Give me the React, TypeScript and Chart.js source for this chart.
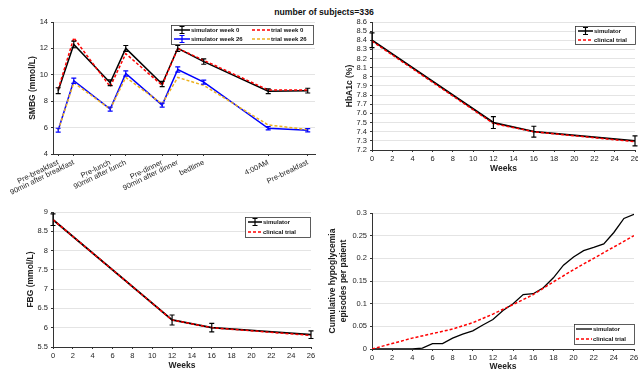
import React, { useEffect, useRef } from "react";
import { Chart, registerables } from "chart.js";
Chart.register(...registerables);

const FONT = "'Liberation Sans', Arial, Helvetica, sans-serif";
Chart.defaults.font.family = FONT;

const TITLE = "number of subjects=336";

// ---------- SMBG profile ----------
const smbgLabels = [
  "Pre-breakfast",
  "90min after breakfast",
  "Pre-lunch",
  "90min after lunch",
  "Pre-dinner",
  "90min after dinner",
  "bedtime",
  "4:00AM",
  "Pre-breakfast",
];
const smbgTimes = [7, 8.5, 12, 13.5, 17, 18.5, 21, 27.2, 31];
const simWeek0 = [8.8, 12.3, 9.4, 12.0, 9.3, 12.0, 11.0, 8.75, 8.8];
const simWeek0Err = [0.22, 0.25, 0.22, 0.22, 0.2, 0.22, 0.2, 0.18, 0.18];
const trialWeek0 = [8.9, 12.8, 9.1, 11.6, 9.2, 12.0, 11.1, 8.85, 8.85];
const simWeek26 = [5.8, 9.55, 7.4, 10.1, 7.7, 10.4, 9.45, 5.95, 5.8];
const simWeek26Err = [0.15, 0.2, 0.15, 0.2, 0.15, 0.2, 0.15, 0.12, 0.12];
const trialWeek26 = [5.8, 9.4, 7.4, 9.8, 7.8, 9.8, 9.2, 6.2, 5.85];

// ---------- HbA1c / FBG ----------
const visitWeeks = [0, 12, 16, 26];
const hba1cSim = [8.4, 7.5, 7.4, 7.3];
const hba1cSimErr = [0.08, 0.065, 0.06, 0.055];
const hba1cTrial = [8.39, 7.49, 7.4, 7.29];
const fbgSim = [8.8, 6.2, 6.0, 5.82];
const fbgSimErr = [0.15, 0.13, 0.11, 0.1];
const fbgTrial = [8.8, 6.2, 6.0, 5.8];

// ---------- Hypoglycemia ----------
const hypoSimWeeks = [0, 1, 2, 3, 4, 5, 6, 7, 8, 9, 10, 11, 12, 13, 14, 15, 16, 17, 18, 19, 20, 21, 22, 23, 24, 25, 26];
const hypoSim = [0, 0, 0, 0, 0, 0.002, 0.012, 0.012, 0.024, 0.033, 0.04, 0.053, 0.065, 0.085, 0.1, 0.12, 0.122, 0.135, 0.157, 0.185, 0.203, 0.217, 0.224, 0.232, 0.257, 0.288, 0.297];
const hypoTrialWeeks = [0, 2, 4, 6, 8, 10, 12, 14, 16, 18, 20, 22, 24, 26];
const hypoTrial = [0, 0.012, 0.024, 0.034, 0.044, 0.058, 0.077, 0.098, 0.12, 0.148, 0.175, 0.2, 0.225, 0.25];

const pts = (xs: number[], ys: number[]) => xs.map((x, i) => ({ x, y: ys[i] }));
const fmt = (v: any) => String(Number(Number(v).toFixed(4)));

type Rect = { left: number; top: number; width: number; height: number };
type Area = { left: number; top: number; right: number; bottom: number };

const errorBarPlugin = {
  id: "errorBars",
  afterDatasetsDraw(chart: any) {
    const ctx = chart.ctx;
    const xs = chart.scales.x;
    const ys = chart.scales.y;
    chart.data.datasets.forEach((ds: any) => {
      if (!ds.errorBars) return;
      ctx.save();
      ctx.strokeStyle = ds.errorColor || ds.borderColor;
      ctx.lineWidth = 1.2;
      const cap = 2.5;
      ds.data.forEach((p: any, j: number) => {
        const e = ds.errorBars[j];
        const px = xs.getPixelForValue(p.x);
        const y1 = ys.getPixelForValue(p.y - e);
        const y2 = ys.getPixelForValue(p.y + e);
        ctx.beginPath();
        ctx.moveTo(px, y1);
        ctx.lineTo(px, y2);
        ctx.moveTo(px - cap, y1);
        ctx.lineTo(px + cap, y1);
        ctx.moveTo(px - cap, y2);
        ctx.lineTo(px + cap, y2);
        ctx.stroke();
      });
      ctx.restore();
    });
  },
};

const legendBoxPlugin = {
  id: "legendBox",
  afterDraw(chart: any) {
    const o = chart.options.plugins.legendBox;
    if (!o || !o.items) return;
    const ctx = chart.ctx;
    ctx.save();
    ctx.fillStyle = "#fff";
    ctx.fillRect(o.x, o.y, o.w, o.h);
    ctx.strokeStyle = "#333";
    ctx.lineWidth = 0.8;
    ctx.strokeRect(o.x + 0.5, o.y + 0.5, o.w, o.h);
    o.items.forEach((it: any) => {
      ctx.strokeStyle = it.color;
      ctx.lineWidth = it.width;
      ctx.setLineDash(it.dash || []);
      ctx.beginPath();
      ctx.moveTo(it.sx, it.y);
      ctx.lineTo(it.sx + it.sw, it.y);
      ctx.stroke();
      ctx.setLineDash([]);
      if (it.err) {
        const mx = it.sx + it.sw / 2;
        ctx.lineWidth = 1.2;
        ctx.beginPath();
        ctx.moveTo(mx, it.y - 3.5);
        ctx.lineTo(mx, it.y + 3.5);
        ctx.moveTo(mx - 2.5, it.y - 3.5);
        ctx.lineTo(mx + 2.5, it.y - 3.5);
        ctx.moveTo(mx - 2.5, it.y + 3.5);
        ctx.lineTo(mx + 2.5, it.y + 3.5);
        ctx.stroke();
      }
      ctx.fillStyle = "#111";
      ctx.font = "bold 6px " + FONT;
      ctx.textBaseline = "middle";
      ctx.textAlign = "left";
      ctx.fillText(it.text, it.sx + it.sw + 1, it.y + 0.5);
    });
    ctx.restore();
  },
};

function makeLegend(rect: Rect, box: any, items: any[]) {
  return {
    x: box.x - rect.left,
    y: box.y - rect.top,
    w: box.w,
    h: box.h,
    items: items.map((it) => ({ ...it, sx: it.sx - rect.left, y: it.y - rect.top })),
  };
}

const TICK_COLOR = "#1e1e1e";

function buildChart(
  canvas: HTMLCanvasElement,
  rect: Rect,
  area: Area,
  datasets: any[],
  xCfg: any,
  yCfg: any,
  legend: any
) {
  const padTop = area.top - rect.top;
  const padRight = rect.left + rect.width - area.right;
  const yWidth = area.left - rect.left;
  const xHeight = rect.top + rect.height - area.bottom;
  const titleFont = { size: 8.5, weight: "bold" as const };
  return new Chart(canvas, {
    type: "line",
    data: { datasets },
    options: {
      animation: false,
      responsive: false,
      maintainAspectRatio: false,
      events: [],
      layout: { padding: { top: padTop, right: padRight, left: 0, bottom: 0 } },
      plugins: {
        legend: { display: false },
        tooltip: { enabled: false },
        title: { display: false },
        legendBox: legend,
      } as any,
      scales: {
        x: {
          type: "linear",
          min: xCfg.min,
          max: xCfg.max,
          afterFit: (s: any) => {
            s.height = xHeight;
            s.paddingLeft = 0;
            s.paddingRight = 0;
          },
          afterBuildTicks: xCfg.values
            ? (s: any) => {
                s.ticks = xCfg.values.map((v: number) => ({ value: v }));
              }
            : undefined,
          ticks: {
            stepSize: xCfg.step,
            autoSkip: false,
            minRotation: xCfg.rotation || 0,
            maxRotation: xCfg.rotation || 0,
            padding: 2,
            color: TICK_COLOR,
            font: { size: 7.5 },
            callback: xCfg.labels ? (_v: any, i: number) => xCfg.labels[i] : (v: any) => fmt(v),
          },
          grid: { display: true, drawOnChartArea: false, drawTicks: true, tickLength: 2, tickColor: "#333" },
          border: { display: true, color: "#333", width: 1 },
          title: xCfg.title
            ? {
                display: true,
                text: xCfg.title,
                color: "#222",
                font: titleFont,
                padding: { top: 0, bottom: xCfg.titlePad },
              }
            : { display: false },
        },
        y: {
          type: "linear",
          min: yCfg.min,
          max: yCfg.max,
          afterFit: (s: any) => {
            s.width = yWidth;
            s.paddingTop = 0;
            s.paddingBottom = 0;
          },
          ticks: {
            stepSize: yCfg.step,
            autoSkip: false,
            padding: 3,
            color: TICK_COLOR,
            font: { size: 7.5 },
            callback: (v: any) => fmt(v),
          },
          grid: { display: true, color: "#e4e4e4", lineWidth: 1, drawTicks: true, tickLength: 2, tickColor: "#333" },
          border: { display: true, color: "#333", width: 1 },
          title: {
            display: true,
            text: yCfg.title,
            color: "#222",
            font: titleFont,
            padding: { top: yCfg.titlePad, bottom: 0 },
          },
        },
      },
    } as any,
    plugins: [errorBarPlugin, legendBoxPlugin] as any,
  });
}

const R_TL: Rect = { left: 0, top: 14, width: 320, height: 186 };
const R_TR: Rect = { left: 320, top: 14, width: 318, height: 176 };
const R_BL: Rect = { left: 0, top: 195, width: 320, height: 177 };
const R_BR: Rect = { left: 320, top: 195, width: 318, height: 177 };

const A_TL: Area = { left: 53, top: 22, right: 315, bottom: 154 };
const A_TR: Area = { left: 372, top: 22, right: 635, bottom: 150 };
const A_BL: Area = { left: 53, top: 212, right: 311, bottom: 347 };
const A_BR: Area = { left: 372, top: 213, right: 634, bottom: 349 };

const RED = "#ff0000";
const BLUE = "#0000ff";
const YELLOW = "#edb120";
const BLACK = "#000000";

const line = (data: any[], color: string, width: number, dash: number[] | null, order: number, extra: any = {}) => ({
  data,
  borderColor: color,
  backgroundColor: color,
  borderWidth: width,
  borderDash: dash || [],
  pointRadius: 0,
  fill: false,
  tension: 0,
  order,
  ...extra,
});

export default function App() {
  const c1 = useRef<HTMLCanvasElement>(null);
  const c2 = useRef<HTMLCanvasElement>(null);
  const c3 = useRef<HTMLCanvasElement>(null);
  const c4 = useRef<HTMLCanvasElement>(null);

  useEffect(() => {
    const charts: Chart[] = [];

    charts.push(
      buildChart(
        c1.current!,
        R_TL,
        A_TL,
        [
          line(pts(smbgTimes, trialWeek0), RED, 1.5, [3, 2], 0),
          line(pts(smbgTimes, trialWeek26), YELLOW, 1.5, [3, 2], 1),
          line(pts(smbgTimes, simWeek0), BLACK, 1.5, null, 2, { errorBars: simWeek0Err, errorColor: BLACK }),
          line(pts(smbgTimes, simWeek26), BLUE, 1.5, null, 3, { errorBars: simWeek26Err, errorColor: BLUE }),
        ],
        { min: 6.5, max: 31.7, values: smbgTimes, labels: smbgLabels, rotation: 26 },
        { min: 4, max: 14, step: 2, title: "SMBG (mmol/L)", titlePad: 28 },
        makeLegend(R_TL, { x: 171, y: 25, w: 142, h: 19 }, [
          { sx: 174, sw: 16, y: 30, color: BLACK, width: 1.5, err: true, text: "simulator week 0" },
          { sx: 174, sw: 16, y: 39, color: BLUE, width: 1.5, err: true, text: "simulator week 26" },
          { sx: 252, sw: 18, y: 30, color: RED, width: 1.5, dash: [3, 2], text: "trial week 0" },
          { sx: 252, sw: 18, y: 39, color: YELLOW, width: 1.5, dash: [3, 2], text: "trial week 26" },
        ])
      )
    );

    charts.push(
      buildChart(
        c2.current!,
        R_TR,
        A_TR,
        [
          line(pts(visitWeeks, hba1cTrial), RED, 1.5, [3, 2], 0),
          line(pts(visitWeeks, hba1cSim), BLACK, 1.8, null, 1, { errorBars: hba1cSimErr, errorColor: BLACK }),
        ],
        { min: 0, max: 26, step: 2, title: "Weeks", titlePad: 16 },
        { min: 7.2, max: 8.6, step: 0.1, title: "HbA1c (%)", titlePad: 25 },
        makeLegend(R_TR, { x: 575, y: 26, w: 60, h: 18 }, [
          { sx: 578, sw: 15, y: 31, color: BLACK, width: 1.5, err: true, text: "simulator" },
          { sx: 578, sw: 15, y: 40, color: RED, width: 1.5, dash: [3, 2], text: "clinical trial" },
        ])
      )
    );

    charts.push(
      buildChart(
        c3.current!,
        R_BL,
        A_BL,
        [
          line(pts(visitWeeks, fbgTrial), RED, 1.5, [3, 2], 0),
          line(pts(visitWeeks, fbgSim), BLACK, 1.8, null, 1, { errorBars: fbgSimErr, errorColor: BLACK }),
        ],
        { min: 0, max: 26, step: 2, title: "Weeks", titlePad: 1 },
        { min: 5.5, max: 9, step: 0.5, title: "FBG (mmol/L)", titlePad: 26 },
        makeLegend(R_BL, { x: 245, y: 217, w: 65, h: 20 }, [
          { sx: 248, sw: 14, y: 222, color: BLACK, width: 1.5, err: true, text: "simulator" },
          { sx: 248, sw: 14, y: 232, color: RED, width: 1.5, dash: [3, 2], text: "clinical trial" },
        ])
      )
    );

    charts.push(
      buildChart(
        c4.current!,
        R_BR,
        A_BR,
        [
          line(pts(hypoTrialWeeks, hypoTrial), RED, 1.5, [3, 2], 0),
          line(pts(hypoSimWeeks, hypoSim), BLACK, 1.3, null, 1),
        ],
        { min: 0, max: 26, step: 2, title: "Weeks", titlePad: 0 },
        { min: 0, max: 0.3, step: 0.05, title: ["Cumulative hypoglycemia", "episodes per patient"], titlePad: 8 },
        makeLegend(R_BR, { x: 574, y: 324, w: 60, h: 20 }, [
          { sx: 576, sw: 16, y: 329, color: BLACK, width: 1.3, text: "simulator" },
          { sx: 576, sw: 16, y: 339, color: RED, width: 1.5, dash: [3, 2], text: "clinical trial" },
        ])
      )
    );

    return () => charts.forEach((c) => c.destroy());
  }, []);

  const cs = (r: Rect): React.CSSProperties => ({ position: "absolute", left: r.left, top: r.top, width: r.width, height: r.height });

  return (
    <div style={{ position: "fixed", left: 0, top: 0, width: 638, height: 372, background: "#fff", overflow: "hidden" }}>
      <div
        style={{
          position: "absolute",
          left: 224,
          top: 7,
          width: 200,
          textAlign: "center",
          fontFamily: FONT,
          fontWeight: "bold",
          fontSize: 8.7,
          lineHeight: "10px",
          color: "#111",
        }}
      >
        {TITLE}
      </div>
      <canvas ref={c1} width={R_TL.width} height={R_TL.height} style={cs(R_TL)} />
      <canvas ref={c2} width={R_TR.width} height={R_TR.height} style={cs(R_TR)} />
      <canvas ref={c3} width={R_BL.width} height={R_BL.height} style={cs(R_BL)} />
      <canvas ref={c4} width={R_BR.width} height={R_BR.height} style={cs(R_BR)} />
    </div>
  );
}
